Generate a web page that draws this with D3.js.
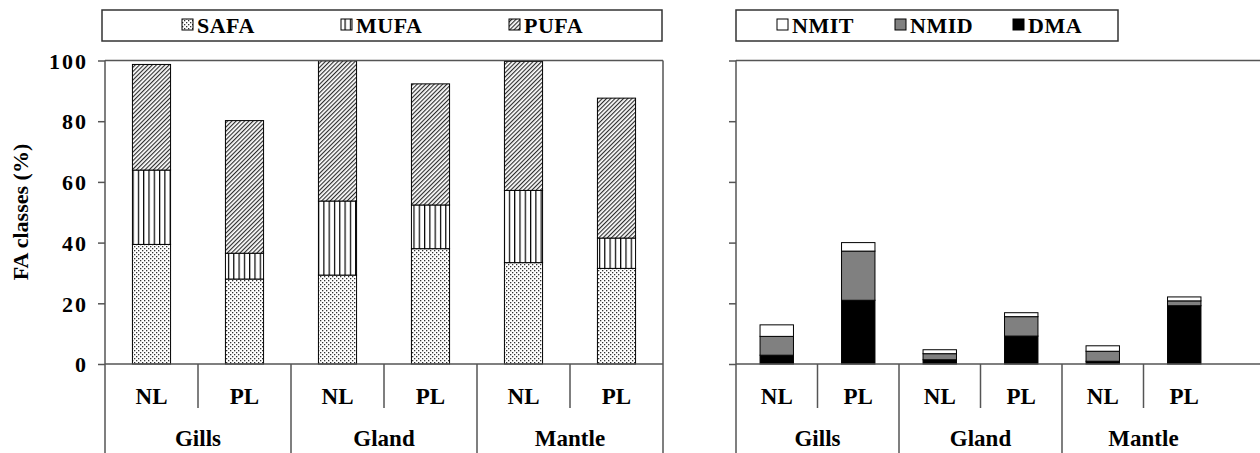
<!DOCTYPE html>
<html>
<head>
<meta charset="utf-8">
<script src="https://cdn.jsdelivr.net/npm/d3@7"></script>
<style>
  body { margin: 0; background: #fff; }
  .frameLine { stroke: #555; stroke-width: 1.5; fill: none; }
  .barOutline { stroke: #000; stroke-width: 1; }
</style>
</head>
<body>
<div id="chartContainer"></div>
<script>
const CHART_WIDTH = 1260;
const CHART_HEIGHT = 453;
const Y_ZERO = 364;
const Y_TOP = 60.5;
const BOTTOM = 453;
const FONT = "Tinos, 'Times New Roman', Times, 'Liberation Serif', 'Noto Serif', 'DejaVu Serif', FreeSerif, 'Nimbus Roman', serif";

// data
const tissues = ["Gills", "Gland", "Mantle"];
const lipidClasses = ["NL", "PL"];
const safa = [39.4, 28.0, 29.3, 38.0, 33.4, 31.5];
const mufa = [24.5, 8.5, 24.4, 14.4, 23.8, 10.0];
const pufa = [34.8, 43.7, 46.2, 39.9, 42.5, 46.1];
const dma  = [2.9, 21.0, 1.4, 9.2, 0.9, 19.2];
const nmid = [6.2, 16.2, 2.0, 6.4, 3.3, 1.6];
const nmit = [3.8, 2.8, 1.3, 1.3, 1.8, 1.3];
const yTicks = [0, 20, 40, 60, 80, 100];

const slotKeys = [];
tissues.forEach((t) => lipidClasses.forEach((c) => slotKeys.push(t + "|" + c)));

const svg = d3.select("#chartContainer").append("svg")
    .attr("width", CHART_WIDTH)
    .attr("height", CHART_HEIGHT)
    .style("font-family", FONT)
    .style("font-weight", "bold");

// fill patterns
const defs = svg.append("defs");
const dots = defs.append("pattern").attr("id", "patDots")
    .attr("patternUnits", "userSpaceOnUse").attr("width", 4).attr("height", 4);
dots.append("rect").attr("width", 4).attr("height", 4).attr("fill", "#fff");
dots.append("rect").attr("x", 0).attr("y", 0).attr("width", 1.3).attr("height", 1.3).attr("fill", "#333");
dots.append("rect").attr("x", 2).attr("y", 2).attr("width", 1.3).attr("height", 1.3).attr("fill", "#333");

const vlines = defs.append("pattern").attr("id", "patVert")
    .attr("patternUnits", "userSpaceOnUse").attr("width", 5.3).attr("height", 10);
vlines.append("rect").attr("width", 5.3).attr("height", 10).attr("fill", "#fff");
vlines.append("line").attr("x1", 0.6).attr("x2", 0.6).attr("y1", 0).attr("y2", 10)
    .attr("stroke", "#000").attr("stroke-width", 1.2);

const diag = defs.append("pattern").attr("id", "patDiag")
    .attr("patternUnits", "userSpaceOnUse").attr("width", 3).attr("height", 10)
    .attr("patternTransform", "rotate(45)");
diag.append("rect").attr("width", 3).attr("height", 10).attr("fill", "#fff");
diag.append("line").attr("x1", 0.6).attr("x2", 0.6).attr("y1", 0).attr("y2", 10)
    .attr("stroke", "#222").attr("stroke-width", 1.1);

const y = d3.scaleLinear().domain([0, 100]).range([Y_ZERO, Y_TOP]);

const addText = (sel) => sel.append("text").style("font-family", FONT).style("font-weight", "bold");

const drawPanel = (opts) => {
    const g = svg.append("g");
    const slot = d3.scaleBand().domain(slotKeys).range([opts.x0, opts.x1]).padding(0);
    const barW = slot.bandwidth() * 0.41;

    const rows = slotKeys.map((k, i) => {
        const row = { key: k };
        opts.series.forEach((s) => { row[s.name] = s.values[i]; });
        return row;
    });
    const stacked = d3.stack().keys(opts.series.map((s) => s.name))(rows);

    stacked.forEach((layer, li) => {
        g.append("g").selectAll("rect")
            .data(layer)
            .join("rect")
            .attr("class", "barOutline")
            .attr("x", (d) => slot(d.data.key) + (slot.bandwidth() - barW) / 2)
            .attr("width", barW)
            .attr("y", (d) => y(d[1]))
            .attr("height", (d) => y(d[0]) - y(d[1]))
            .attr("fill", opts.series[li].fill);
    });

    // y axis
    const axis = d3.axisLeft(y).tickValues(yTicks).tickSize(7).tickSizeOuter(0)
        .tickFormat(opts.showLabels ? d3.format("d") : () => "");
    const ax = g.append("g").attr("transform", `translate(${opts.x0},0)`).call(axis)
        .attr("font-family", null);
    ax.select(".domain").remove();
    ax.selectAll(".tick line").attr("stroke", "#555").attr("stroke-width", 1.5);
    ax.selectAll(".tick text").attr("font-size", 22).attr("x", -17).attr("letter-spacing", 2)
        .attr("dy", "0.35em").style("font-family", FONT).style("font-weight", "bold");

    // frame: left axis down to bottom, top border, baseline
    g.append("line").attr("class", "frameLine")
        .attr("x1", opts.x0).attr("x2", opts.x0).attr("y1", Y_TOP).attr("y2", BOTTOM);
    g.append("line").attr("class", "frameLine")
        .attr("x1", opts.x0).attr("x2", opts.frameRight).attr("y1", Y_TOP).attr("y2", Y_TOP);
    g.append("line").attr("class", "frameLine")
        .attr("x1", opts.x0).attr("x2", opts.frameRight).attr("y1", Y_ZERO).attr("y2", Y_ZERO);
    if (opts.rightBorder) {
        g.append("line").attr("class", "frameLine")
            .attr("x1", opts.x1).attr("x2", opts.x1).attr("y1", Y_TOP).attr("y2", BOTTOM);
    }

    // category separators
    slotKeys.forEach((k, i) => {
        if (i === 0) return;
        const xs = slot(k);
        const isGroup = i % lipidClasses.length === 0;
        g.append("line").attr("class", "frameLine")
            .attr("x1", xs).attr("x2", xs)
            .attr("y1", Y_ZERO).attr("y2", isGroup ? BOTTOM : 408);
    });

    slotKeys.forEach((k) => {
        addText(g)
            .attr("x", slot(k) + slot.bandwidth() / 2)
            .attr("y", 404)
            .attr("text-anchor", "middle")
            .attr("font-size", 23)
            .text(k.split("|")[1]);
    });

    tissues.forEach((t) => {
        addText(g)
            .attr("x", slot(t + "|" + lipidClasses[0]) + slot.bandwidth())
            .attr("y", 446)
            .attr("text-anchor", "middle")
            .attr("font-size", 23)
            .text(t);
    });

    // legend
    const lg = g.append("g");
    lg.append("rect").attr("x", opts.legendBox[0]).attr("y", 10)
        .attr("width", opts.legendBox[1] - opts.legendBox[0]).attr("height", 31)
        .attr("fill", "#fff").attr("stroke", "#333").attr("stroke-width", 1.5);
    opts.series.forEach((s, i) => {
        const lx = opts.legendX[i];
        lg.append("rect").attr("x", lx).attr("y", 19).attr("width", 11).attr("height", 11)
            .attr("fill", s.fill).attr("stroke", "#000").attr("stroke-width", 1);
        addText(lg).attr("x", lx + 15).attr("y", 33).attr("font-size", 22)
            .attr("letter-spacing", 0.5)
            .text(s.name);
    });
};

drawPanel({
    x0: 105, x1: 663, frameRight: 663, rightBorder: true, showLabels: true,
    series: [
        { name: "SAFA", values: safa, fill: "url(#patDots)" },
        { name: "MUFA", values: mufa, fill: "url(#patVert)" },
        { name: "PUFA", values: pufa, fill: "url(#patDiag)" }
    ],
    legendBox: [102, 662],
    legendX: [182, 341, 509]
});

drawPanel({
    x0: 736, x1: 1225, frameRight: 1260, rightBorder: false, showLabels: false,
    series: [
        { name: "DMA", values: dma, fill: "#000" },
        { name: "NMID", values: nmid, fill: "#808080" },
        { name: "NMIT", values: nmit, fill: "#fff" }
    ],
    legendBox: [736, 1118],
    legendX: [1013, 895, 777]
});

// y axis title
addText(svg)
    .attr("transform", "translate(28,212) rotate(-90)")
    .attr("text-anchor", "middle")
    .attr("font-size", 22)
    .text("FA classes (%)");
</script>
</body>
</html>
